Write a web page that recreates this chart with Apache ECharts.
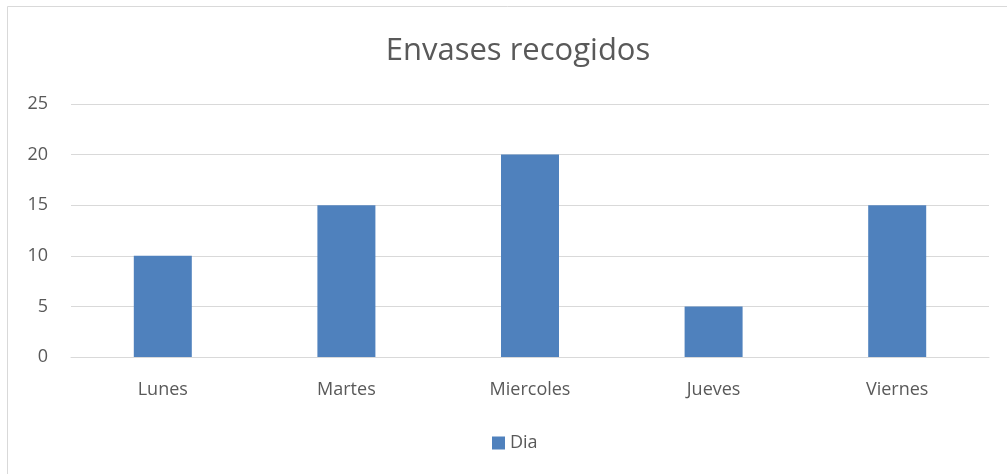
<!DOCTYPE html>
<html><head><meta charset="utf-8">
<script src="https://cdn.jsdelivr.net/npm/echarts@6/dist/echarts.min.js"></script>
<style>html,body{margin:0;padding:0;background:#fff;}#c{width:1007px;height:474px;}</style>
</head><body><div id="c"></div>
<script>
const categories = ['Lunes','Martes','Miercoles','Jueves','Viernes'];
const values = [10, 15, 20, 5, 15];
const seriesName = 'Dia';
const titleText = 'Envases recogidos';

const chart = echarts.init(document.getElementById('c'), null, {renderer:'canvas'});
const font = '"Open Sans", sans-serif';
chart.setOption({
  animation:false,
  backgroundColor:'#fff',
  graphic:[{type:'rect', shape:{x:7.5,y:6.5,width:1030,height:500}, style:{fill:'none', stroke:'#D9D9D9', lineWidth:1}, silent:true}],
  title:{text:titleText, left:513, top:31, textAlign:'center',
    textStyle:{fontFamily:font, fontSize:31, fontWeight:'normal', color:'#595959'}},
  legend:{bottom:17, left:487, itemWidth:13, itemHeight:13, icon:'rect', itemGap:8,
    textStyle:{fontFamily:font, fontSize:18, color:'#595959'}, data:[seriesName]},
  grid:{left:71, right:18, top:104, bottom:117},
  xAxis:{type:'category', data:categories,
    axisLine:{lineStyle:{color:'#D9D9D9', width:1}}, axisTick:{show:false},
    axisLabel:{fontFamily:font, fontSize:18, color:'#595959', margin:24}},
  yAxis:{type:'value', min:0, max:25, interval:5,
    axisLine:{show:false}, axisTick:{show:false},
    splitLine:{lineStyle:{color:'#D9D9D9', width:1}},
    axisLabel:{fontFamily:font, fontSize:18, color:'#595959', margin:23}},
  series:[{name:seriesName, type:'bar', data:values, barWidth:58,
    itemStyle:{color:'#4F81BD'}}]
});
</script></body></html>
